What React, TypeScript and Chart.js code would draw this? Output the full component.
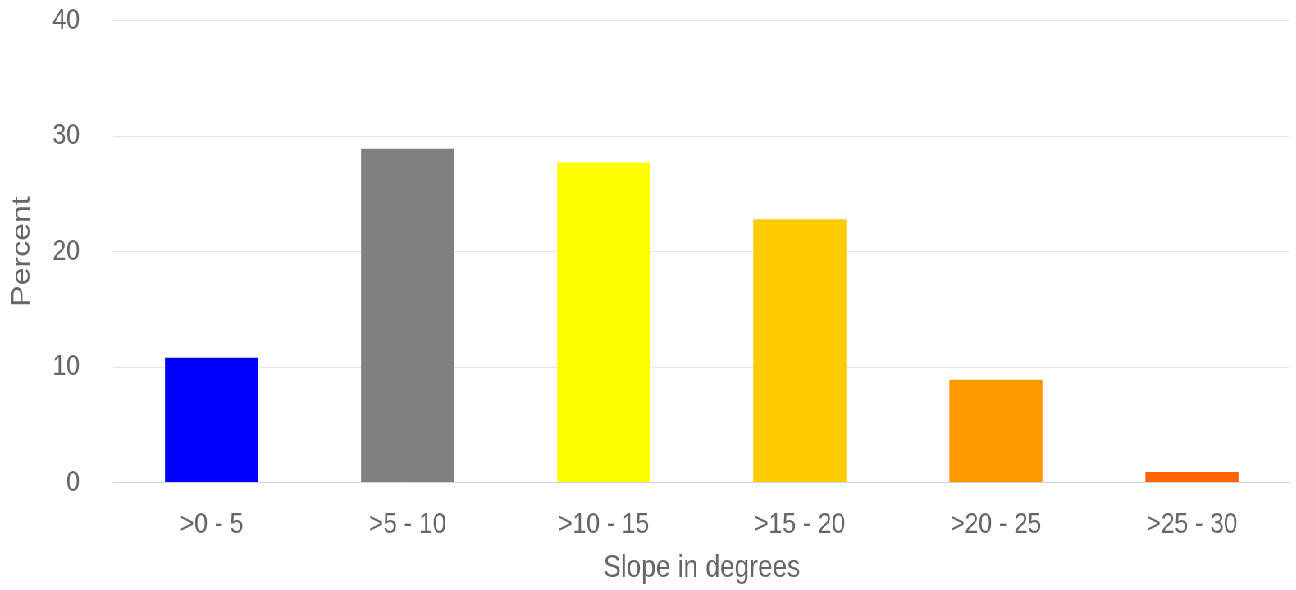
import React, { useEffect, useRef } from "react";
import { Chart, registerables } from "chart.js";

Chart.register(...registerables);

const categories = [">0 - 5", ">5 - 10", ">10 - 15", ">15 - 20", ">20 - 25", ">25 - 30"];
const percentValues = [10.8, 28.9, 27.7, 22.8, 8.9, 0.9];
const barColors = ["#0000ff", "#808080", "#ffff00", "#ffcc00", "#ff9900", "#ff6600"];
const yTicks = [0, 10, 20, 30, 40];
const xTitle = "Slope in degrees";
const yTitle = "Percent";

const SCALE_X = 0.8203;
const CANVAS_W = 1580;
const CANVAS_H = 590;

export default function App() {
  const ref = useRef<HTMLCanvasElement | null>(null);

  useEffect(() => {
    if (!ref.current) return;
    const font = "'Liberation Sans', Arial, Helvetica, sans-serif";
    const chart = new Chart(ref.current, {
      type: "bar",
      data: {
        labels: categories,
        datasets: [
          {
            label: yTitle,
            data: percentValues,
            backgroundColor: barColors,
            borderWidth: 0,
            categoryPercentage: 1,
            barPercentage: 0.475,
          },
        ],
      },
      options: {
        responsive: false,
        animation: false,
        devicePixelRatio: 1,
        layout: { padding: { top: 20.5, right: 7.4, bottom: 0, left: 0 } },
        plugins: {
          legend: { display: false },
          tooltip: { enabled: false },
        },
        scales: {
          x: {
            grid: { display: false, drawTicks: false },
            border: { display: true, color: "#ccd6eb", width: 1 },
            ticks: {
              color: "#666666",
              font: { family: font, size: 30 },
              padding: 24.5,
              maxRotation: 0,
              autoSkip: false,
            },
            title: {
              display: true,
              text: xTitle,
              color: "#666666",
              font: { family: font, size: 32 },
              padding: { top: 0, bottom: 2.8 },
            },
            afterFit: (scale: any) => {
              scale.height = 107.5;
              scale.paddingLeft = 0;
              scale.paddingRight = 0;
            },
          },
          y: {
            min: 0,
            max: 40,
            afterBuildTicks: (scale: any) => {
              scale.ticks = yTicks.map((v) => ({ value: v }));
            },
            grid: {
              drawTicks: false,
              color: (ctx: any) => (ctx.tick && ctx.tick.value === 0 ? "rgba(0,0,0,0)" : "#e6e6e6"),
              lineWidth: 1,
            },
            border: { display: false },
            ticks: {
              color: "#666666",
              font: { family: font, size: 30 },
              padding: 41,
            },
            title: {
              display: true,
              text: yTitle,
              color: "#666666",
              font: { family: font, size: 32 },
              padding: { top: 8.2, bottom: 0 },
            },
            afterFit: (scale: any) => {
              scale.width = 138.4;
              scale.paddingTop = 0;
              scale.paddingBottom = 0;
            },
          },
        },
      },
    });
    return () => chart.destroy();
  }, []);

  return (
    <div
      style={{
        position: "absolute",
        left: 0,
        top: 0,
        width: CANVAS_W,
        height: CANVAS_H,
        transform: `scaleX(${SCALE_X})`,
        transformOrigin: "0 0",
        background: "#ffffff",
      }}
    >
      <canvas ref={ref} width={CANVAS_W} height={CANVAS_H} style={{ display: "block" }} />
    </div>
  );
}
